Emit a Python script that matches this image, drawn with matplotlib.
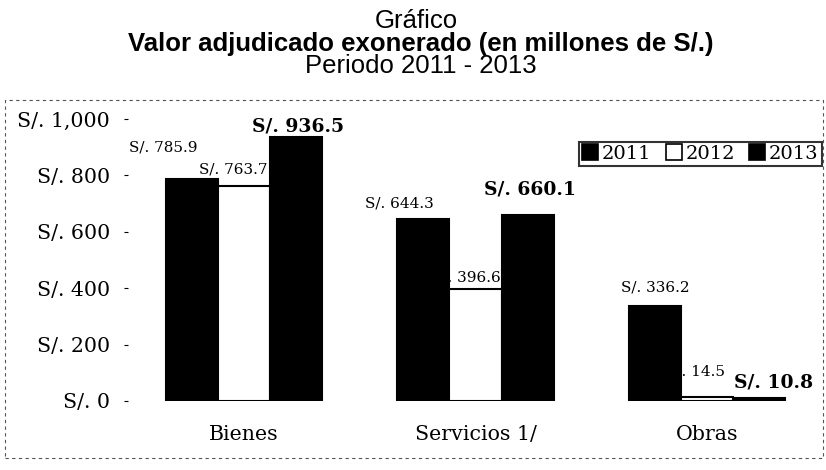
import matplotlib
matplotlib.use("Agg")
import matplotlib.pyplot as plt
from matplotlib.lines import Line2D
from matplotlib.patches import Rectangle
import numpy as np

categories = ["Bienes", "Servicios 1/", "Obras"]
years = ["2011", "2012", "2013"]
v2011 = [785.9, 644.3, 336.2]
v2012 = [763.7, 396.6, 14.5]
v2013 = [936.5, 660.1, 10.8]
yticks = [0, 200, 400, 600, 800, 1000]
ytick_labels = ["S/. 0", "S/. 200", "S/. 400", "S/. 600", "S/. 800", "S/. 1,000"]

serif = "DejaVu Serif"
sans = "Liberation Sans"

fig = plt.figure(figsize=(8.26, 4.70), dpi=100)
ax = fig.add_axes([128 / 826, 69 / 470, 695 / 826, 282 / 470])

x = np.arange(len(categories))
w = 0.225
series = [v2011, v2012, v2013]
faces = ["black", "white", "black"]
for i, (vals, fc) in enumerate(zip(series, faces)):
    ax.bar(x + (i - 1) * w, vals, width=w, color=fc, edgecolor="black",
           linewidth=1.5, zorder=3)

# data label pixel offsets from bar top-centre: offsets[series][category]
offsets = [
    [(-28, 32), (-24, 16), (0, 19)],
    [(-11, 16), (-9, 12), (-12, 25)],
    [(2, 10), (2, 25), (14, 15)],
]
for i, vals in enumerate(series):
    for j, v in enumerate(vals):
        dx, dy = offsets[i][j]
        bold = (i == 2)
        txt = f"S/. {v:,.1f}"
        ax.annotate(txt, (x[j] + (i - 1) * w, v), xytext=(dx, dy),
                    textcoords="offset pixels", ha="center", va="center",
                    fontfamily=serif,
                    fontsize=13.5 if bold else 11,
                    fontweight="bold" if bold else "normal",
                    zorder=2 if i == 1 else 5, annotation_clip=False)

ax.set_xlim(-0.5, 2.5)
ax.set_ylim(0, 1000)
ax.set_yticks(yticks)
ax.set_yticklabels(ytick_labels, fontfamily=serif, fontsize=14.8)
ax.set_xticks(x)
ax.set_xticklabels(categories, fontfamily=serif, fontsize=14.8)
ax.tick_params(axis="x", length=0, pad=17)
ax.tick_params(axis="y", length=3, width=0.8, colors="black", pad=10)
for s in ax.spines.values():
    s.set_visible(False)

handles = [Line2D([], [], marker="s", linestyle="none", markersize=11,
                  markerfacecolor=fc, markeredgecolor="black", markeredgewidth=1.2)
           for fc in faces]
leg = ax.legend(handles, years, loc="upper right", ncol=3, frameon=True,
                bbox_to_anchor=(0.998, 0.918), borderaxespad=0,
                handlelength=0.9, handletextpad=0.15,
                columnspacing=0.7, borderpad=0.15, fancybox=False,
                prop={"family": serif, "size": 14})
leg.get_frame().set_edgecolor("black")
leg.get_frame().set_linewidth(1.5)

fig.text(416 / 826, 1 - 21 / 470, "Gráfico", ha="center", va="center",
         fontfamily=sans, fontsize=18.5)
fig.text(421 / 826, 1 - 44 / 470, "Valor adjudicado exonerado (en millones de S/.)",
         ha="center", va="center", fontfamily=sans, fontsize=18.5, fontweight="bold")
fig.text(421 / 826, 1 - 66 / 470, "Periodo 2011 - 2013", ha="center", va="center",
         fontfamily=sans, fontsize=18.5)

fig.patches.append(Rectangle((5 / 826, 12 / 470), 818 / 826, 358 / 470,
                             transform=fig.transFigure, fill=False,
                             edgecolor="#555555", linestyle=(0, (3, 3)), linewidth=0.8))

fig.savefig("out.png", dpi=100)
